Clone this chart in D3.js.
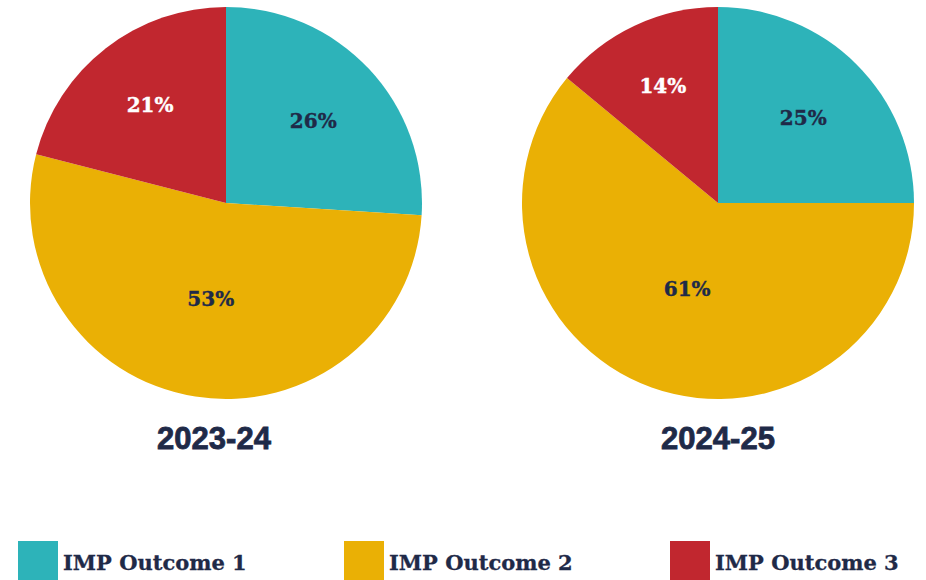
<!DOCTYPE html>
<html>
<head>
<meta charset="utf-8">
<script src="https://cdn.jsdelivr.net/npm/d3@7"></script>
<style>
  body { margin: 0; background: #fff; }
  svg { display: block; }
</style>
</head>
<body>
<script>
const years = ['2023-24', '2024-25'];
const outcomes = ['IMP Outcome 1', 'IMP Outcome 2', 'IMP Outcome 3'];
const values2023 = [26, 53, 21];
const values2024 = [25, 61, 14];
const colours = ['#2db3b9', '#eab005', '#c1272f'];
const labelColours = ['#1f2a48', '#1f2a48', '#ffffff'];

const svgWidth = 926;
const svgHeight = 580;
const radius = 196;
const navy = '#1f2a48';

const svg = d3.select('body').append('svg')
    .attr('width', svgWidth)
    .attr('height', svgHeight);

const xPie = d3.scalePoint().domain(years).range([226, 718]);
const xTitle = d3.scalePoint().domain(years).range([214, 718]);
const colour = d3.scaleOrdinal().domain(outcomes).range(colours);
const textColour = d3.scaleOrdinal().domain(outcomes).range(labelColours);

const pie = d3.pie().sort(null).startAngle(0).endAngle(2 * Math.PI);
const arc = d3.arc().innerRadius(0).outerRadius(radius);

[values2023, values2024].forEach((vals, i) => {
    const g = svg.append('g')
        .attr('transform', `translate(${xPie(years[i])}, 203)`);
    const total = d3.sum(vals);
    const slices = pie(vals).map((s, j) => Object.assign(s, {name: outcomes[j]}));

    g.selectAll('path')
        .data(slices)
        .join('path')
        .attr('d', arc)
        .attr('fill', d => colour(d.name));

    g.selectAll('text')
        .data(slices)
        .join('text')
        .attr('transform', d => {
            // bigger slices get their label nearer the centre
            const r = radius * (0.72 - 0.42 * d.value / total);
            const a = (d.startAngle + d.endAngle) / 2;
            return `translate(${r * Math.sin(a)}, ${-r * Math.cos(a)})`;
        })
        .attr('text-anchor', 'middle')
        .attr('dy', '0.36em')
        .attr('font-family', 'DejaVu Serif')
        .attr('font-weight', 'bold')
        .attr('font-size', 20)
        .attr('stroke', d => textColour(d.name))
        .attr('stroke-width', 0.4)
        .attr('fill', d => textColour(d.name))
        .text(d => d.value + '%');

    svg.append('text')
        .attr('x', xTitle(years[i]))
        .attr('y', 449)
        .attr('text-anchor', 'middle')
        .attr('font-family', 'Liberation Sans')
        .attr('font-weight', 'bold')
        .attr('font-size', 31)
        .attr('stroke', navy)
        .attr('stroke-width', 0.8)
        .attr('fill', navy)
        .text(years[i]);
});

// legend along the bottom
const xLegend = d3.scalePoint().domain(outcomes).range([18, 670]);
const legend = svg.selectAll('g.legend')
    .data(outcomes)
    .join('g')
    .attr('class', 'legend')
    .attr('transform', d => `translate(${xLegend(d)}, 541)`);

legend.append('rect')
    .attr('width', 40)
    .attr('height', 40)
    .attr('fill', d => colour(d));

legend.append('text')
    .attr('x', 45)
    .attr('y', 29)
    .attr('font-family', 'DejaVu Serif')
    .attr('font-weight', 'bold')
    .attr('font-size', 21)
    .attr('stroke', navy)
    .attr('stroke-width', 0.3)
    .attr('fill', navy)
    .text(d => d);
</script>
</body>
</html>
